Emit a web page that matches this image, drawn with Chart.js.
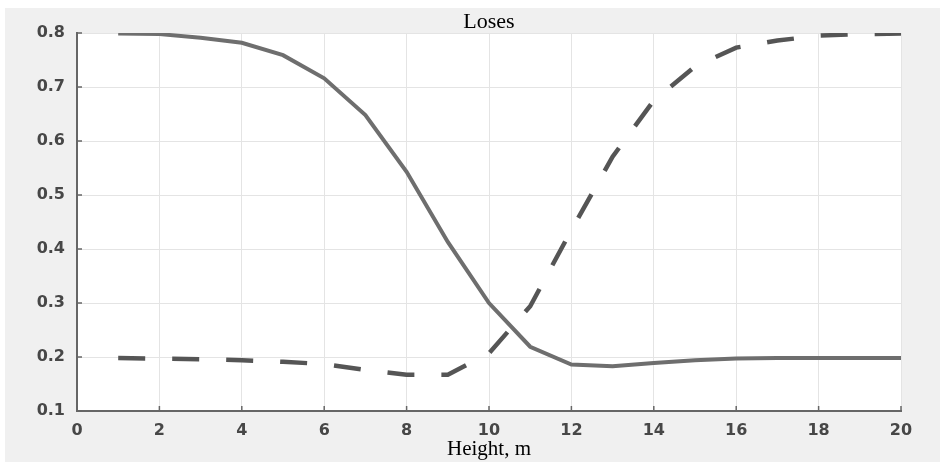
<!DOCTYPE html>
<html>
<head>
<meta charset="utf-8">
<script src="https://cdn.jsdelivr.net/npm/chart.js@4/dist/chart.umd.min.js"></script>
<style>
  body { margin: 0; background: #ffffff; }
  #wrap { position: absolute; left: 5px; top: 8px; width: 935px; height: 454px; background: #f0f0f0; }
</style>
</head>
<body>
<div id="wrap"><canvas id="losesChart" width="935" height="454"></canvas></div>
<script>
// height, m
const heights = [1, 2, 3, 4, 5, 6, 7, 8, 9, 10, 11, 12, 13, 14, 15, 16, 17, 18, 19, 20];
// solid curve
const solidLoss = [0.799, 0.798, 0.791, 0.782, 0.759, 0.716, 0.648, 0.543, 0.413, 0.300, 0.219, 0.186, 0.183, 0.189, 0.194, 0.197, 0.198, 0.198, 0.198, 0.198];
// dashed curve
const dashedLoss = [0.198, 0.197, 0.196, 0.194, 0.191, 0.187, 0.176, 0.167, 0.167, 0.207, 0.294, 0.435, 0.571, 0.675, 0.738, 0.773, 0.786, 0.795, 0.798, 0.799];
const xTicks = [0, 2, 4, 6, 8, 10, 12, 14, 16, 18, 20];
const yTicks = [0.1, 0.2, 0.3, 0.4, 0.5, 0.6, 0.7, 0.8];

const tickFont = { family: "'DejaVu Sans', Arial, sans-serif", size: 16, weight: 'bold' };

// white plot area + short inward tick marks like matlab
const plotBox = {
  id: 'plotBox',
  beforeDraw(chart) {
    const { ctx, chartArea: a } = chart;
    ctx.save();
    ctx.fillStyle = '#ffffff';
    ctx.fillRect(a.left, a.top, a.right - a.left, a.bottom - a.top);
    ctx.restore();
  },
  beforeDatasetsDraw(chart) {
    const { ctx, chartArea: a, scales } = chart;
    ctx.save();
    ctx.strokeStyle = '#666666';
    ctx.lineWidth = 1.5;
    xTicks.forEach(v => {
      const px = scales.x.getPixelForValue(v);
      ctx.beginPath(); ctx.moveTo(px, a.bottom); ctx.lineTo(px, a.bottom - 5); ctx.stroke();
    });
    yTicks.forEach(v => {
      const py = scales.y.getPixelForValue(v);
      ctx.beginPath(); ctx.moveTo(a.left, py); ctx.lineTo(a.left + 5, py); ctx.stroke();
    });
    ctx.restore();
  }
};

new Chart(document.getElementById('losesChart'), {
  type: 'line',
  data: {
    datasets: [
      {
        data: heights.map((h, i) => ({ x: h, y: solidLoss[i] })),
        borderColor: '#6e6e6e',
        borderWidth: 4,
        pointRadius: 0,
        tension: 0
      },
      {
        data: heights.map((h, i) => ({ x: h, y: dashedLoss[i] })),
        borderColor: '#555555',
        borderWidth: 4.5,
        borderDash: [27, 27],
        pointRadius: 0,
        tension: 0
      }
    ]
  },
  options: {
    responsive: false,
    animation: false,
    layout: { padding: { left: 0, right: 39, top: 0, bottom: 0 } },
    plugins: {
      legend: { display: false },
      tooltip: { enabled: false },
      title: {
        display: true,
        fullSize: false,
        text: 'Loses',
        color: '#000000',
        font: { family: "'Liberation Serif', 'Times New Roman', serif", size: 22, weight: 'normal', lineHeight: 1.0 },
        padding: { top: 3, bottom: 0 }
      }
    },
    scales: {
      x: {
        type: 'linear',
        min: 0,
        max: 20,
        afterFit: s => { s.height = 51; },
        afterBuildTicks: s => { s.ticks = xTicks.map(v => ({ value: v })); },
        ticks: { color: '#474747', font: tickFont, padding: 10, maxRotation: 0 },
        grid: { color: '#e4e4e4', lineWidth: 1, drawTicks: false },
        border: { color: '#666666', width: 2 },
        title: {
          display: true,
          text: 'Height, m',
          color: '#000000',
          font: { family: "'Liberation Serif', 'Times New Roman', serif", size: 21, weight: 'normal' },
          padding: { top: 0, bottom: 0 }
        }
      },
      y: {
        min: 0.1,
        max: 0.8,
        afterFit: s => { s.width = 72; },
        afterBuildTicks: s => { s.ticks = yTicks.map(v => ({ value: v })); },
        ticks: { color: '#474747', font: tickFont, padding: 12, callback: v => v.toFixed(1) },
        grid: { color: '#e4e4e4', lineWidth: 1, drawTicks: false },
        border: { color: '#666666', width: 2 }
      }
    }
  },
  plugins: [plotBox]
});
</script>
</body>
</html>
